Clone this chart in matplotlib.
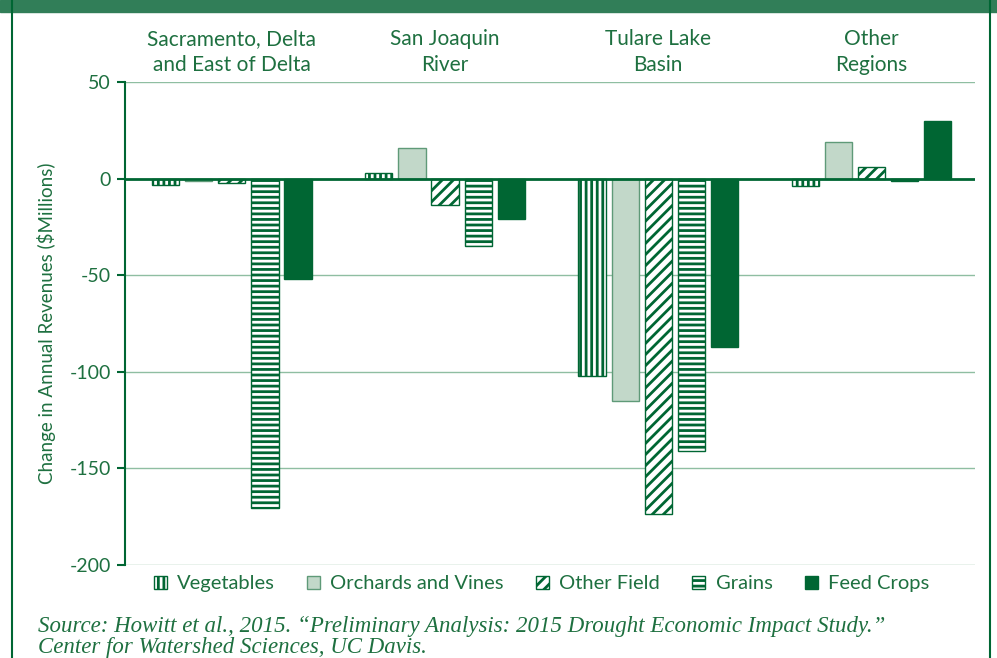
import numpy as np
import matplotlib
matplotlib.use("Agg")
from matplotlib import pyplot as plt
from matplotlib.patches import Rectangle
from matplotlib.lines import Line2D

regions = ["Sacramento, Delta\nand East of Delta", "San Joaquin\nRiver", "Tulare Lake\nBasin", "Other\nRegions"]
crops = ["Vegetables", "Orchards and Vines", "Other Field", "Grains", "Feed Crops"]

vegetables = [-3.5, 3, -102, -4]
orchards = [-1.5, 16, -115, 19]
other_field = [-2.5, -13.5, -173.5, 6]
grains = [-170.5, -35, -141, -1.5]
feed_crops = [-52, -21, -87, 30]

yticks = [50, 0, -50, -100, -150, -200]

dark = "#006633"
text_green = "#1e7040"
grid_green = "#8fbea2"
light_fill = "#c2d8c9"
mid_edge = "#5f9a78"

plt.rcParams["font.family"] = ["Liberation Sans Narrow", "Lato", "DejaVu Sans"]
plt.rcParams["hatch.linewidth"] = 2.0

fig = plt.figure(figsize=(9.97, 6.58), dpi=100)
ax = fig.add_axes([0.1254, 0.1413, 0.978 - 0.1254, 0.8754 - 0.1413])

# frame decorations
fig.patches.append(Rectangle((0, 1 - 12 / 658), 1, 12 / 658, transform=fig.transFigure,
                             color="#317e58", zorder=0))
fig.lines.append(Line2D([12 / 997, 12 / 997], [0, 1], transform=fig.transFigure, color=dark, lw=1.5))
fig.lines.append(Line2D([990 / 997, 990 / 997], [0, 1], transform=fig.transFigure, color=dark, lw=1.5))

x = np.arange(len(regions))
width = 0.127
step = 0.155

styles = [
    dict(facecolor="white", edgecolor=dark, hatch="|||", linewidth=1.0),
    dict(facecolor=light_fill, edgecolor=mid_edge, linewidth=1.0),
    dict(facecolor="white", edgecolor=dark, hatch="///", linewidth=1.0),
    dict(facecolor="white", edgecolor=dark, hatch="---", linewidth=1.0),
    dict(facecolor=dark, edgecolor=dark, linewidth=1.0),
]
series = [vegetables, orchards, other_field, grains, feed_crops]

handles = []
for i, (vals, st) in enumerate(zip(series, styles)):
    b = ax.bar(x + (i - 2) * step, vals, width, zorder=3, **st)
    handles.append(b)

ax.set_xlim(-0.502, 3.488)
ax.set_ylim(-200, 50)
ax.set_yticks(yticks)
ax.set_yticklabels([str(t) for t in yticks])

for t in [50, -50, -100, -150, -200]:
    ax.axhline(t, color=grid_green, lw=1.0, zorder=1)
ax.axhline(0, color=dark, lw=2.0, zorder=4)

for s in ["top", "right", "bottom"]:
    ax.spines[s].set_visible(False)
ax.spines["left"].set_color(dark)
ax.spines["left"].set_linewidth(1.5)
ax.tick_params(axis="y", colors=dark, labelcolor=text_green, labelsize=14, length=6, width=1.5, pad=4)

ax.xaxis.tick_top()
ax.set_xticks(x)
ax.set_xticklabels(regions, fontsize=15, color=text_green, linespacing=1.35)
ax.tick_params(axis="x", length=0, pad=5)

ax.set_ylabel("Change in Annual Revenues (\\$Millions)", fontsize=13.5, color=text_green, labelpad=10)

leg = ax.legend(handles, crops, loc="upper center", bbox_to_anchor=(0.49, 0.016), ncol=5,
                frameon=False, fontsize=14.5, handlelength=0.65, handleheight=0.65,
                handletextpad=0.5, columnspacing=1.6)
for t in leg.get_texts():
    t.set_color(text_green)

fig.text(38 / 997, 1 - 637 / 658, "Source: Howitt et al., 2015. \u201cPreliminary Analysis: 2015 Drought Economic Impact Study.\u201d\nCenter for Watershed Sciences, UC Davis.",
         family="Liberation Serif", style="italic", fontsize=16.5, color=text_green, va="center", ha="left",
         linespacing=1.0)

fig.savefig("out.png", dpi=100)
